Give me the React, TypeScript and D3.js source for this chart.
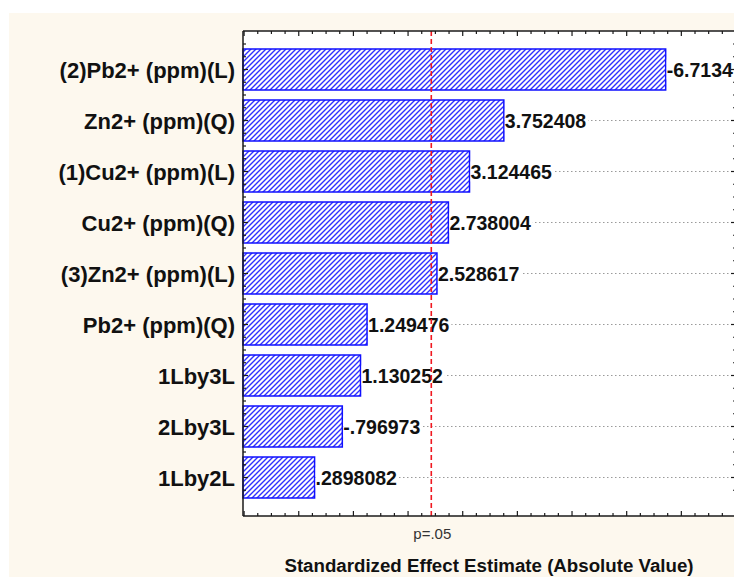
import React, { useEffect, useRef } from "react";
import * as d3 from "d3";

// Pareto chart of standardized effects
const effects = [
  "(2)Pb2+ (ppm)(L)",
  "Zn2+ (ppm)(Q)",
  "(1)Cu2+ (ppm)(L)",
  "Cu2+ (ppm)(Q)",
  "(3)Zn2+ (ppm)(L)",
  "Pb2+ (ppm)(Q)",
  "1Lby3L",
  "2Lby3L",
  "1Lby2L",
];
const values = [6.7134, 3.752408, 3.124465, 2.738004, 2.528617, 1.249476, 1.130252, 0.796973, 0.2898082];
const valueLabels = ["-6.7134", "3.752408", "3.124465", "2.738004", "2.528617", "1.249476", "1.130252", "-.796973", ".2898082"];
const pCritical = 2.425;
const pLabel = "p=.05";
const xTitle = "Standardized Effect Estimate (Absolute Value)";

const W = 734;
const H = 577;
const FONT = "'Liberation Sans', Arial, sans-serif";

export default function App() {
  const svgRef = useRef<SVGSVGElement>(null);

  useEffect(() => {
    if (!svgRef.current) return;
    const svg = d3.select(svgRef.current);
    svg.selectAll("*").remove();

    const plot = { left: 243, top: 31, right: 736, bottom: 516 };

    const x = d3.scaleLinear().domain([-1.02, 8.0]).range([plot.left, plot.right]);
    const y = d3
      .scaleBand<string>()
      .domain(effects)
      .range([plot.top, plot.bottom])
      .paddingInner(10 / 51)
      .paddingOuter(18 / 51);

    // hatch pattern
    const pat = svg
      .append("defs")
      .append("pattern")
      .attr("id", "hatch")
      .attr("patternUnits", "userSpaceOnUse")
      .attr("width", 5)
      .attr("height", 5);
    pat.append("rect").attr("width", 5).attr("height", 5).attr("fill", "#fff");
    pat
      .append("path")
      .attr("d", "M-1,1 l2,-2 M0,5 l5,-5 M4,6 l2,-2")
      .attr("stroke", "#3030ff")
      .attr("stroke-width", 1.4);

    // page background
    svg.append("rect").attr("x", 9).attr("y", 13).attr("width", W - 9).attr("height", H - 13).attr("fill", "#fdf8ee");

    svg
      .append("rect")
      .attr("x", plot.left)
      .attr("y", plot.top)
      .attr("width", plot.right - plot.left)
      .attr("height", plot.bottom - plot.top)
      .attr("fill", "#fff");

    // dotted gridlines at category centers
    svg
      .selectAll(".grid")
      .data(effects)
      .enter()
      .append("line")
      .attr("x1", plot.left)
      .attr("x2", plot.right)
      .attr("y1", (d) => y(d)! + y.bandwidth() / 2)
      .attr("y2", (d) => y(d)! + y.bandwidth() / 2)
      .attr("stroke", "#9a9a9a")
      .attr("stroke-width", 1)
      .attr("stroke-dasharray", "1.5 2.5");

    // bars
    svg
      .selectAll(".bar")
      .data(effects)
      .enter()
      .append("rect")
      .attr("x", x(-1.02))
      .attr("y", (d) => y(d)!)
      .attr("width", (d, i) => x(values[i]) - x(-1.02))
      .attr("height", y.bandwidth())
      .attr("fill", "url(#hatch)")
      .attr("stroke", "#1010ff")
      .attr("stroke-width", 1.5);

    // value labels with white background
    const lab = svg
      .selectAll(".vlab")
      .data(effects)
      .enter()
      .append("g")
      .attr("transform", (d, i) => `translate(${x(values[i]) + 1},${y(d)! + y.bandwidth() / 2})`);
    lab
      .append("text")
      .attr("y", 7)
      .attr("font-family", FONT)
      .attr("font-weight", "bold")
      .attr("font-size", "19.5px")
      .attr("fill", "#111")
      .text((d, i) => valueLabels[i]);
    lab.each(function () {
      const g = d3.select(this);
      const t = g.select<SVGTextElement>("text").node()!;
      const w = t.getComputedTextLength();
      g.insert("rect", "text").attr("x", 0).attr("y", -10).attr("width", w + 2).attr("height", 20).attr("fill", "#fff");
    });

    // p=.05 line
    svg
      .append("line")
      .attr("x1", x(pCritical))
      .attr("x2", x(pCritical))
      .attr("y1", plot.top)
      .attr("y2", plot.bottom)
      .attr("stroke", "#f01820")
      .attr("stroke-width", 1.6)
      .attr("stroke-dasharray", "5 3");

    // axes frame
    const frame = svg.append("g").attr("stroke", "#1a1a1a").attr("stroke-width", 1.5);
    frame.append("line").attr("x1", plot.left).attr("x2", plot.right).attr("y1", plot.top).attr("y2", plot.top);
    frame.append("line").attr("x1", plot.left).attr("x2", plot.right).attr("y1", plot.bottom).attr("y2", plot.bottom);
    frame.append("line").attr("x1", plot.left).attr("x2", plot.left).attr("y1", plot.top).attr("y2", plot.bottom);
    frame.append("line").attr("x1", plot.right).attr("x2", plot.right).attr("y1", plot.top).attr("y2", plot.bottom);

    // x ticks (inward), every 0.25, major at integers
    const xt = d3.range(-4, 33).map((k) => k / 4);
    const ticks = svg.append("g").attr("stroke", "#1a1a1a").attr("stroke-width", 1.2);
    xt.forEach((v) => {
      const len = Number.isInteger(v) ? 5 : 3;
      ticks.append("line").attr("x1", x(v)).attr("x2", x(v)).attr("y1", plot.top).attr("y2", plot.top + len);
      ticks.append("line").attr("x1", x(v)).attr("x2", x(v)).attr("y1", plot.bottom).attr("y2", plot.bottom - len);
    });

    // y ticks: major at category centers, minor at quarter steps
    const step = y.step();
    effects.forEach((d) => {
      const c = y(d)! + y.bandwidth() / 2;
      [-2, -1, 0, 1].forEach((k) => {
        const yy = c + (k * step) / 4;
        const len = k === 0 ? 5 : 3;
        ticks.append("line").attr("x1", plot.left).attr("x2", plot.left + len).attr("y1", yy).attr("y2", yy);
        ticks.append("line").attr("x1", plot.right).attr("x2", plot.right - len).attr("y1", yy).attr("y2", yy);
      });
    });

    // category labels
    svg
      .selectAll(".ylab")
      .data(effects)
      .enter()
      .append("text")
      .attr("x", plot.left - 8)
      .attr("y", (d) => y(d)! + y.bandwidth() / 2 + 8)
      .attr("text-anchor", "end")
      .attr("font-family", FONT)
      .attr("font-weight", "bold")
      .attr("font-size", "22px")
      .attr("fill", "#111")
      .text((d) => d);

    svg
      .append("text")
      .attr("x", x(pCritical) + 1)
      .attr("y", 539)
      .attr("text-anchor", "middle")
      .attr("font-family", FONT)
      .attr("font-size", "15px")
      .attr("fill", "#333")
      .text(pLabel);

    svg
      .append("text")
      .attr("x", 489)
      .attr("y", 572)
      .attr("text-anchor", "middle")
      .attr("font-family", FONT)
      .attr("font-weight", "bold")
      .attr("font-size", "18.7px")
      .attr("fill", "#111")
      .text(xTitle);
  }, []);

  return (
    <svg
      ref={svgRef}
      width={W}
      height={H}
      style={{ position: "absolute", left: 0, top: 0, background: "#fff" }}
    />
  );
}
